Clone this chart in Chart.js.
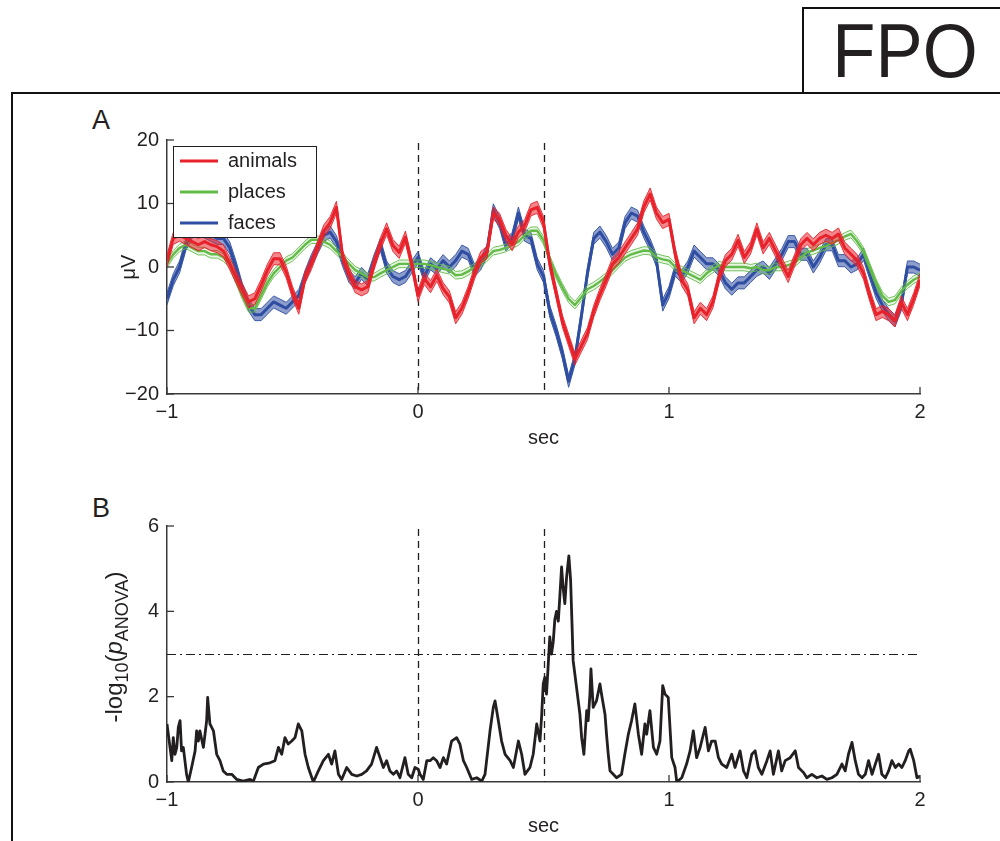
<!DOCTYPE html>
<html><head><meta charset="utf-8">
<script src="https://cdn.jsdelivr.net/npm/chart.js@4.4.1/dist/chart.umd.min.js"></script>
<style>
html,body{margin:0;padding:0;background:#fff;}
#page{position:relative;width:1000px;height:841px;overflow:hidden;font-family:'Liberation Sans',Arial,Helvetica,sans-serif;color:#231f20;}
#frame{position:absolute;left:11px;top:92px;width:1000px;height:800px;border-left:2px solid #111;border-top:2px solid #111;}
#fpo{position:absolute;left:802px;top:7px;width:220px;height:85px;border:2px solid #111;border-bottom:none;}
.lbl{position:absolute;line-height:1;white-space:nowrap;}
canvas{position:absolute;left:0;}
</style></head>
<body>
<div id="page">
  <div id="frame"></div>
  <div id="fpo"></div>
  <div class="lbl" style="left:805px;width:200px;text-align:center;top:13px;font-size:76px;transform:scaleX(0.93);">FPO</div>
  <div class="lbl" style="left:92px;top:107px;font-size:27px;">A</div>
  <div class="lbl" style="left:92px;top:495px;font-size:27px;">B</div>
  <canvas id="cA" width="1000" height="360" style="top:100px"></canvas>
  <canvas id="cB" width="1000" height="351" style="top:490px"></canvas>
</div>
<script>
// ---------- data ----------
const timeA = [-1,-0.975,-0.95,-0.925,-0.9,-0.875,-0.85,-0.825,-0.8,-0.775,-0.75,-0.725,-0.7,-0.675,-0.65,-0.625,-0.6,-0.575,-0.55,-0.525,-0.5,-0.475,-0.45,-0.425,-0.4,-0.375,-0.35,-0.325,-0.3,-0.275,-0.25,-0.225,-0.2,-0.175,-0.15,-0.125,-0.1,-0.075,-0.05,-0.025,
0,0.025,0.05,0.075,0.1,0.125,0.15,0.175,0.2,0.225,0.25,0.275,0.3,0.325,0.35,0.375,0.4,0.425,0.45,0.475,0.5,0.525,0.55,0.575,0.6,0.625,0.65,0.675,0.7,0.725,0.75,0.775,0.8,0.825,0.85,0.875,0.9,0.925,0.95,0.975,
1,1.025,1.05,1.075,1.1,1.125,1.15,1.175,1.2,1.225,1.25,1.275,1.3,1.325,1.35,1.375,1.4,1.425,1.45,1.475,1.5,1.525,1.55,1.575,1.6,1.625,1.65,1.675,1.7,1.725,1.75,1.775,1.8,1.825,1.85,1.875,1.9,1.925,1.95,1.975,2];

const animals = [1,4.5,5,4.5,4,3.5,4,3.5,3.2,2.5,0.5,-1.6,-3.6,-5.5,-5,-2.9,-0.5,1.3,1.3,-0.8,-4,-6.5,-1.6,0.5,3.1,5.7,7,9.4,1.6,-1,-3.1,-3.6,-3.1,0.5,3.6,6,3.4,2.3,4.7,0.5,-4.5,
-1.8,-3.1,-1.3,-3.4,-4.7,-8,-6.5,-4,-1,1.5,2.3,8.5,7.5,5,3.5,5.5,6.5,9,9.4,7,0.5,-4,-8.5,-11.5,-14.5,-12.5,-10.5,-7,-4.3,-2,0.5,1.5,3,4.5,6,9.5,11.5,8.5,7,7.5,
2,-2,-3.6,-8,-6.5,-7.5,-5.5,-1.5,1,2,4.2,1.5,3,6,3,4.5,2.5,0.5,-1.5,1,3.5,4.5,3.5,4.5,5,4.5,5.2,3,2,1,-1,-4.5,-7.5,-7,-7.5,-8.5,-5.5,-7.5,-5,-2];

const places = [0.5,2,3,3.5,3,2.5,2.5,2,2,1.5,0.5,-2,-4.5,-6.5,-6.5,-4.5,-2.5,-1,0,1,1.5,2.5,3.5,4.3,4.3,4,3.5,2.5,1.6,0.5,-0.5,-1,-1.6,-1.6,-1,-0.5,0,0.5,0.5,0.5,0.5,
0.5,0.3,0,-0.3,-0.5,-1.3,-1.2,-0.7,0,0.5,1.5,2.5,2.7,3,3.5,4,5,5.7,5.7,4.2,1.2,-1.2,-3.2,-5,-6,-4.8,-3.5,-3,-2.3,-1.5,-0.5,0.5,1.5,2,2.3,2.6,2.5,1.5,1.2,1,
0,-0.5,-1,-1.5,-2,-1,-0.3,0.3,0,0,0,0,-0.2,0,-0.5,-0.5,0,0,0.3,0.6,1.5,2.3,2.6,3,3.3,3.8,4.2,4.8,5.2,4,2.5,0,-2.5,-4.5,-5.5,-5.2,-3.8,-2.8,-2,-1.5];

const faces = [-5,-2,0,3.5,5.5,6,5.5,5,4.5,4.5,3,0,-3.5,-6,-7.5,-7.5,-6.5,-5.5,-6,-6.5,-5.5,-4.5,-1.5,1,3,5,5.5,4,1,-1.5,-2.5,-1,-2,1,3.5,0,-1.5,-2,-1.5,0,1.5,
-1.5,0.5,-0.3,1,0,1,2.5,2,-0.5,0.5,2.5,9,7,3.5,4.5,8.5,5,4.5,0.5,-1.5,-7,-10,-13.5,-18,-14.5,-8,-1,4.5,5.5,4,2,3,7,8.5,8,5.5,3.5,1,-6,-4,
-0.5,-1.5,0,2.5,1.5,0.5,0.5,-0.5,-2.5,-3.5,-2.5,-2.5,-1.5,-0.5,0,-1,0.5,2,4,4,2,2,0,1.5,3.5,3.5,1,1,0,0.5,2,-1,-4,-6,-7.5,-8.5,-6,0,0,-0.5];

// half-width of the shaded spread around each mean (µV)
const spreadA = [0.95, 0.6, 0.95];

const timeB = [-1,-0.988,-0.981,-0.975,-0.968,-0.961,-0.955,-0.948,-0.942,-0.935,-0.922,-0.915,-0.902,-0.888,-0.882,-0.875,-0.869,-0.855,-0.842,-0.838,-0.829,-0.815,-0.802,-0.789,-0.776,-0.762,-0.742,-0.722,-0.696,-0.669,-0.656,-0.636,-0.616,-0.59,-0.57,-0.556,-0.543,-0.53,-0.517,-0.503,-0.49,-0.477,-0.463,-0.45,-0.437,-0.417,-0.397,-0.377,-0.357,-0.344,-0.331,-0.317,-0.304,-0.284,-0.264,-0.244,-0.224,-0.205,-0.185,-0.165,-0.151,-0.138,-0.125,-0.112,-0.098,-0.085,-0.072,-0.052,-0.039,-0.025,-0.012,0.001,0.008,0.021,0.035,0.048,0.061,0.074,0.088,0.101,0.114,0.134,0.154,0.167,0.181,0.194,0.214,0.234,0.254,0.267,0.287,0.3,0.307,0.32,0.333,0.347,0.367,0.38,0.4,0.413,0.426,0.446,0.459,0.473,0.486,0.493,0.499,0.505,0.512,0.519,0.525,0.532,0.539,0.545,0.552,0.559,0.565,0.572,0.578,0.585,0.592,0.601,0.608,0.614,0.618,0.632,0.645,0.652,0.661,0.672,0.678,0.685,0.689,0.698,0.711,0.725,0.731,0.745,0.751,0.758,0.765,0.778,0.791,0.811,0.824,0.838,0.851,0.864,0.878,0.891,0.904,0.911,0.924,0.938,0.951,0.964,0.975,0.984,0.997,1.011,1.024,1.031,1.051,1.07,1.084,1.097,1.11,1.124,1.137,1.144,1.157,1.17,1.184,1.197,1.21,1.23,1.25,1.263,1.283,1.297,1.31,1.33,1.343,1.356,1.37,1.39,1.403,1.416,1.436,1.449,1.463,1.483,1.503,1.516,1.536,1.549,1.569,1.589,1.609,1.629,1.649,1.669,1.689,1.702,1.715,1.729,1.742,1.755,1.769,1.782,1.795,1.809,1.822,1.835,1.848,1.862,1.875,1.888,1.902,1.915,1.928,1.941,1.955,1.961,1.975,1.988,2];

const pAnova = [1.36,0.81,0.5,1.04,0.65,0.81,1.28,1.44,0.73,0.81,0.18,0,0.34,0.73,1.2,0.96,1.2,0.81,1.44,1.98,1.36,1.2,0.65,0.5,0.26,0.18,0.18,0.06,0.02,0.06,0.02,0.34,0.42,0.45,0.5,0.81,0.65,1.04,0.89,0.96,1.04,1.36,1.2,0.65,0.34,0,0.26,0.5,0.65,0.42,0.73,0.18,0.06,0.34,0.18,0.14,0.18,0.26,0.42,0.81,0.57,0.34,0.5,0.26,0.18,0.26,0.1,0.57,0.18,0.1,0.34,0.3,0.18,0.06,0.5,0.5,0.57,0.5,0.34,0.57,0.42,0.96,1.04,0.89,0.5,0.34,0.06,0.1,0.02,0.18,1.2,1.75,1.9,1.44,0.96,0.65,0.5,0.34,0.96,0.65,0.18,0.34,0.65,1.36,0.96,1.59,2.3,2.45,2.06,2.77,3.4,3.0,3.3,3.8,4.0,3.77,4.34,5.04,4.57,4.18,4.8,5.3,4.73,3.63,2.85,2.2,1.59,1.04,0.65,1.67,1.44,2.06,2.65,1.75,1.9,2.3,2.06,1.59,1.12,0.65,0.26,0.18,0.1,0.18,0.65,1.12,1.44,1.83,1.12,0.65,1.36,1.12,1.67,0.81,0.65,0.96,2.26,2.06,1.98,0.57,0.34,0,0.1,0.42,0.73,1.2,0.57,0.81,1.12,1.28,0.73,0.96,0.96,0.57,0.42,0.34,0.65,0.34,0.73,0.26,0.1,0.65,0.73,0.34,0.18,0.5,0.73,0.18,0.73,0.26,0.5,0.57,0.73,0.34,0.22,0.1,0.18,0.1,0.14,0.06,0.1,0.18,0.42,0.26,0.65,0.93,0.5,0.18,0.1,0.18,0.5,0.18,0.42,0.65,0.18,0.1,0.26,0.5,0.34,0.42,0.34,0.5,0.73,0.77,0.5,0.1,0.14];

const categories = ['animals', 'places', 'faces'];
const eventTimes = [0, 0.5];
const pThreshold = 3;
const xTicks = [-1, 0, 1, 2];
const yTicksA = [-20, -10, 0, 10, 20];
const yTicksB = [0, 2, 4, 6];

// ---------- styles ----------
const seriesColors = ['#e8232b', '#62bb47', '#2f4fa2'];
const ink = '#231f20';
const axisColor = '#3a3a3a';
const FONT = "'Liberation Sans', Arial, Helvetica, sans-serif";
Chart.defaults.font.family = FONT;
Chart.defaults.color = ink;

function alpha(hex, a) {
  const n = parseInt(hex.slice(1), 16);
  return `rgba(${n >> 16},${(n >> 8) & 255},${n & 255},${a})`;
}
const fmt = v => (v < 0 ? '\u2212' + Math.abs(v) : String(v));

// ---------- decoration plugin ----------
const decor = {
  id: 'decor',
  beforeDatasetsDraw(chart, args, o) {
    const {ctx, chartArea: a, scales: {x, y}} = chart;
    ctx.save();
    ctx.strokeStyle = ink;
    ctx.lineWidth = 1.3;
    ctx.setLineDash([7, 5]);
    eventTimes.forEach(t => {
      const px = Math.round(x.getPixelForValue(t)) + 0.5;
      ctx.beginPath(); ctx.moveTo(px, a.top + 3); ctx.lineTo(px, a.bottom); ctx.stroke();
    });
    if (o.threshold !== undefined) {
      ctx.lineWidth = 1;
      ctx.setLineDash([9, 4, 2, 4]);
      const py = Math.round(y.getPixelForValue(o.threshold)) + 0.5;
      ctx.beginPath(); ctx.moveTo(a.left, py); ctx.lineTo(a.right, py); ctx.stroke();
    }
    ctx.restore();
  },
  afterDatasetsDraw(chart, args, o) {
    const {ctx, chartArea: a, scales: {x, y}} = chart;
    ctx.save();
    // inward tick marks
    ctx.strokeStyle = axisColor; ctx.lineWidth = 1.3; ctx.setLineDash([]);
    const tl = 7;
    x.ticks.forEach(t => {
      const px = x.getPixelForValue(t.value);
      ctx.beginPath(); ctx.moveTo(px, a.bottom); ctx.lineTo(px, a.bottom - tl); ctx.stroke();
    });
    y.ticks.forEach(t => {
      const py = y.getPixelForValue(t.value);
      ctx.beginPath(); ctx.moveTo(a.left, py); ctx.lineTo(a.left + tl, py); ctx.stroke();
    });
    // legend
    if (o.legend) {
      const x0 = a.left + 6, y0 = a.top + 6, w = 143, h = 91;
      ctx.fillStyle = '#fff'; ctx.fillRect(x0, y0, w, h);
      ctx.strokeStyle = ink; ctx.lineWidth = 1;
      ctx.strokeRect(x0 + 0.5, y0 + 0.5, w, h);
      ctx.font = `20px ${FONT}`; ctx.textBaseline = 'middle'; ctx.textAlign = 'left';
      categories.forEach((c, i) => {
        const yy = y0 + 15 + i * 31;
        ctx.strokeStyle = seriesColors[i]; ctx.lineWidth = 3;
        ctx.beginPath(); ctx.moveTo(x0 + 7, yy); ctx.lineTo(x0 + 45, yy); ctx.stroke();
        ctx.fillStyle = ink; ctx.fillText(c, x0 + 55, yy);
      });
    }
    // x title
    ctx.fillStyle = ink; ctx.font = `20px ${FONT}`;
    ctx.textAlign = 'center'; ctx.textBaseline = 'alphabetic';
    ctx.fillText('sec', (a.left + a.right) / 2, a.bottom + 50);
    // y title (segments allow subscripts)
    const segs = o.ylabel;
    ctx.translate(o.ylabelX, (a.top + a.bottom) / 2 + (o.ylabelDy || 0));
    ctx.rotate(-Math.PI / 2);
    let total = 0;
    segs.forEach(s => { ctx.font = `${s.italic ? 'italic ' : ''}${s.size}px ${FONT}`; s.w = ctx.measureText(s.t).width; total += s.w; });
    let cx = -total / 2;
    ctx.textAlign = 'left';
    segs.forEach(s => {
      ctx.font = `${s.italic ? 'italic ' : ''}${s.size}px ${FONT}`;
      ctx.fillText(s.t, cx, s.dy || 0);
      cx += s.w;
    });
    ctx.restore();
  }
};

function xScale(h) {
  return {
    type: 'linear', min: -1, max: 2,
    afterBuildTicks: s => { s.ticks = xTicks.map(v => ({value: v})); },
    afterFit: s => { s.height = h; },
    grid: {display: true, drawOnChartArea: false, drawTicks: false},
    border: {display: true, color: axisColor, width: 1.5},
    ticks: {callback: fmt, font: {size: 20}, padding: 6, color: ink, maxRotation: 0}
  };
}
function yScale(min, max, ticksArr) {
  return {
    type: 'linear', min, max,
    afterBuildTicks: s => { s.ticks = ticksArr.map(v => ({value: v})); },
    afterFit: s => { s.width = 167; },
    grid: {display: true, drawOnChartArea: false, drawTicks: false},
    border: {display: true, color: axisColor, width: 1.5},
    ticks: {callback: fmt, font: {size: 20}, padding: 8, color: ink}
  };
}

// ---------- chart A ----------
const seriesA = [animals, places, faces];
const dsA = [];
seriesA.forEach((vals, i) => {
  const c = seriesColors[i];
  const s = spreadA[i];
  dsA.push({data: timeA.map((t, k) => ({x: t, y: vals[k] - s})), borderColor: c, borderWidth: 0.9, fill: false});
  dsA.push({data: timeA.map((t, k) => ({x: t, y: vals[k] + s})), borderColor: c, borderWidth: 0.9,
            fill: '-1', backgroundColor: alpha(c, i === 1 ? 0.15 : 0.55)});
  dsA.push({data: timeA.map((t, k) => ({x: t, y: vals[k]})), borderColor: c, borderWidth: i === 1 ? 2.4 : 3, fill: false});
});

new Chart(document.getElementById('cA'), {
  type: 'line',
  data: {datasets: dsA},
  options: {
    responsive: false, animation: false, events: [],
    elements: {point: {radius: 0}, line: {tension: 0, borderJoinStyle: 'round'}},
    layout: {padding: {left: 0, right: 80, top: 40, bottom: 0}},
    scales: {x: xScale(66), y: yScale(-20, 20, yTicksA)},
    plugins: {
      legend: {display: false}, tooltip: {enabled: false},
      decor: {legend: true, ylabelX: 135, ylabel: [{t: '\u03bcV', size: 20}]}
    }
  },
  plugins: [decor]
});

// ---------- chart B ----------
new Chart(document.getElementById('cB'), {
  type: 'line',
  data: {datasets: [{data: timeB.map((t, k) => ({x: t, y: pAnova[k]})), borderColor: ink, borderWidth: 2.8, fill: false}]},
  options: {
    responsive: false, animation: false, events: [],
    elements: {point: {radius: 0}, line: {tension: 0, borderJoinStyle: 'round'}},
    layout: {padding: {left: 0, right: 80, top: 36, bottom: 0}},
    scales: {x: xScale(59), y: yScale(0, 6, yTicksB)},
    plugins: {
      legend: {display: false}, tooltip: {enabled: false},
      decor: {threshold: pThreshold, ylabelX: 122, ylabelDy: -7, ylabel: [
        {t: '-log', size: 24}, {t: '10', size: 18, dy: 6}, {t: '(', size: 24},
        {t: 'p', size: 24, italic: true}, {t: 'ANOVA', size: 18, dy: 6}, {t: ')', size: 24}
      ]}
    }
  },
  plugins: [decor]
});
</script>
</body></html>
